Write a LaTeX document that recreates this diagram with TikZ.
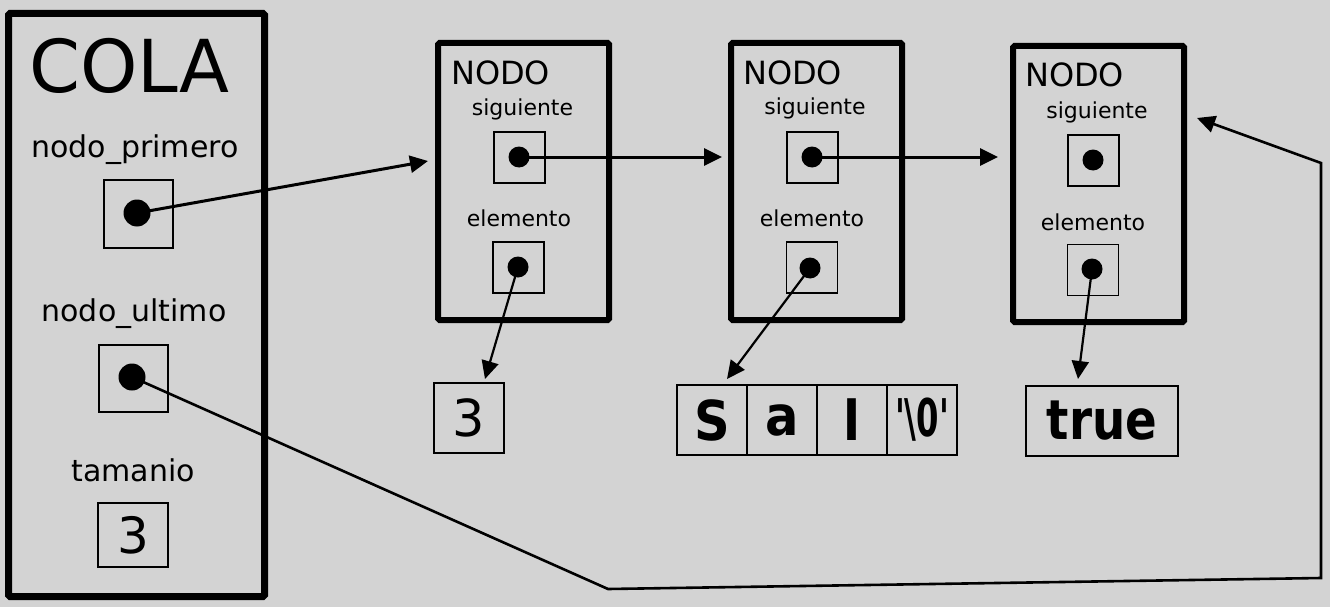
\documentclass[tikz,border=0pt]{standalone}
\usepackage{fontspec}
\setmainfont{DejaVu Sans}
\newfontfamily\qfont{DejaVu Sans}
\usetikzlibrary{arrows.meta}
\definecolor{bgc}{RGB}{211,211,211}
\begin{document}
\begin{tikzpicture}[x=1pt,y=-1pt,
  bigbox/.style={draw, line width=7pt, rounded corners=1.5pt, inner sep=0pt},
  nodobox/.style={draw, line width=6pt, rounded corners=1.5pt, inner sep=0pt, minimum width=171pt, minimum height=277pt},
  cell/.style={draw, line width=1.8pt, inner sep=0pt},
  ptr/.style={cell, minimum width=51pt, minimum height=51pt},
  dot/.style={circle, fill=black, inner sep=0pt, minimum size=21pt},
  lbl/.style={inner sep=0pt, font=\fontsize{30}{36}\selectfont},
  small/.style={inner sep=0pt, font=\fontsize{22}{26}\selectfont},
  title/.style={inner sep=0pt, anchor=base west, font=\fontsize{32}{38}\selectfont},
  valcell/.style={cell, minimum width=70pt, minimum height=70pt, font=\fontsize{55}{60}\selectfont\bfseries},
  conn/.style={line width=3pt, -{Triangle[length=18pt,width=17pt]}},
]
\fill[bgc] (0,0) rectangle (1330,607);
\useasboundingbox (0,0) rectangle (1330,607);

% COLA
\node[bigbox, minimum width=256pt, minimum height=583pt] (cola) at (136.5,305) {};
\node[inner sep=0pt, anchor=base west, font=\fontsize{73}{80}\selectfont] (colat) at (29,93) {COLA};
\node[lbl] (lprim) at (135,150) {nodo\_primero};
\node[cell, minimum width=69pt, minimum height=68pt] (bprim) at (138.5,214) {};
\node[dot, minimum size=27pt] (dprim) at (137,213) {};
\node[lbl] (lult) at (134,314) {nodo\_ultimo};
\node[cell, minimum width=69pt, minimum height=67pt] (bult) at (133.5,378.5) {};
\node[dot, minimum size=27pt] (dult) at (132,377) {};
\node[lbl] (ltam) at (133,470) {tamanio};
\node[cell, minimum width=70pt, minimum height=64pt, font=\fontsize{50}{56}\selectfont] (btam) at (133,535) {3};

% NODO 1
\node[nodobox] (n1) at (523.5,181.5) {};
\node[title] (n1t) at (451,85) {NODO};
\node[small] (n1s) at (522.5,109) {siguiente};
\node[ptr] (n1sb) at (519.5,157.5) {};
\node[dot] (n1sd) at (519,157) {};
\node[small] (n1e) at (519,218) {elemento};
\node[ptr] (n1eb) at (518.5,267.5) {};
\node[dot] (n1ed) at (518,267) {};

% NODO 2
\node[nodobox] (n2) at (816.5,181.5) {};
\node[title] (n2t) at (743,85) {NODO};
\node[small] (n2s) at (815,108) {siguiente};
\node[ptr] (n2sb) at (812.5,157.5) {};
\node[dot] (n2sd) at (812,157) {};
\node[small] (n2e) at (812,218) {elemento};
\node[ptr] (n2eb) at (812,267.5) {};
\node[dot] (n2ed) at (810,268) {};

% NODO 3
\node[nodobox, minimum height=276pt] (n3) at (1098.5,184) {};
\node[title] (n3t) at (1025,87) {NODO};
\node[small] (n3s) at (1097,112) {siguiente};
\node[ptr] (n3sb) at (1093.5,160.5) {};
\node[dot] (n3sd) at (1093,160) {};
\node[small] (n3e) at (1093,222) {elemento};
\node[ptr] (n3eb) at (1093,270) {};
\node[dot] (n3ed) at (1092,269) {};

% values
\node[valcell, font=\fontsize{51}{56}\selectfont] (v3) at (469,418) {3};
\node[valcell] (vs) at (712,420) {\scalebox{0.9}[1]{S}};
\node[valcell] (va) at (782,420) {\scalebox{0.9}[1]{a}};
\node[valcell] (vl) at (852,420) {\scalebox{0.9}[1]{l}};
\node[valcell, font=\fontsize{52}{56}\selectfont\qfont\bfseries] (vz) at (922,420) {\scalebox{0.62}[1]{'\symbol{"5C}0'}};
\node[cell, minimum width=152pt, minimum height=70pt, font=\fontsize{55}{60}\selectfont\bfseries] (vt) at (1102,421) {\scalebox{0.85}[1]{true}};

% free ends
\coordinate (t1) at (428,161);
\coordinate (t2) at (722,157);
\coordinate (t3) at (998,157);
\coordinate (e1) at (485,379);
\coordinate (e2) at (727,379);
\coordinate (e3) at (1078,379);
\coordinate (r1) at (608,589);
\coordinate (r2) at (1321,578);
\coordinate (r3) at (1321,163);
\coordinate (r4) at (1197,118);

\draw[conn] (dprim.center) -- (t1);
\draw[conn] (n1sd.center) -- (t2);
\draw[conn] (n2sd.center) -- (t3);
\draw[conn, line width=2.2pt] (n1ed.center) -- (e1);
\draw[conn, line width=2.2pt] (n2ed.center) -- (e2);
\draw[conn, line width=2.2pt] (n3ed.center) -- (e3);
\draw[conn, line width=2.6pt] (dult.center) -- (r1) -- (r2) -- (r3) -- (r4);
\end{tikzpicture}
\end{document}
